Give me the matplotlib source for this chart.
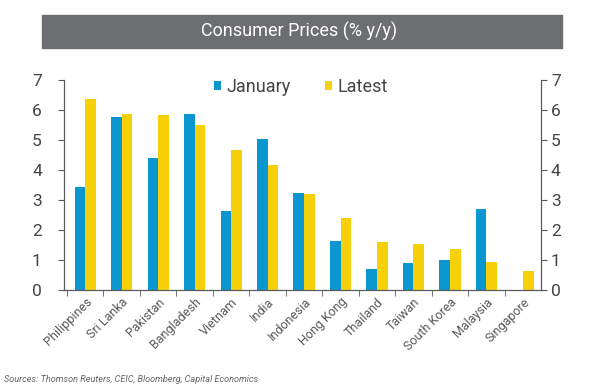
import matplotlib.pyplot as plt
import numpy as np

countries = ['Philippines', 'Sri Lanka', 'Pakistan', 'Bangladesh', 'Vietnam', 'India',
             'Indonesia', 'Hong Kong', 'Thailand', 'Taiwan', 'South Korea', 'Malaysia', 'Singapore']
january = [3.44, 5.76, 4.41, 5.87, 2.64, 5.04, 3.24, 1.63, 0.69, 0.89, 1.0, 2.71, 0.0]
latest = [6.37, 5.87, 5.82, 5.5, 4.66, 4.16, 3.19, 2.39, 1.61, 1.53, 1.37, 0.92, 0.64]

plt.rcParams['font.family'] = ['Roboto', 'DejaVu Sans']

blue = '#0a96cf'
yellow = '#f6d10a'
grey = '#58595b'

fig = plt.figure(figsize=(5.98, 3.89), dpi=100)
ax = fig.add_axes([0.107, 0.2545, 0.798, 0.54])

x = np.arange(len(countries))
w = 0.29
ax.bar(x - w / 2, january, w, color=blue, label='January')
ax.bar(x + w / 2, latest, w, color=yellow, label='Latest')

ax.set_xlim(-0.58, 12.5)
ax.set_ylim(0, 7)
ax.set_yticks(range(8))

# ticks between the categories
ax.set_xticks(np.arange(-0.5, 12.5, 1), minor=True)
ax.set_xticks(x)
ax.set_xticklabels(countries, rotation=45, ha='right', rotation_mode='anchor', fontsize=9, color=grey)
ax.tick_params(axis='x', which='major', length=0, pad=4)
ax.tick_params(axis='x', which='minor', length=4, color=grey, direction='out')
ax.tick_params(axis='y', length=4, color=grey, labelsize=12.5, labelcolor='#444444', pad=12)

ax.spines['top'].set_visible(False)
for s in ['left', 'right', 'bottom']:
    ax.spines[s].set_color(grey)

ax2 = ax.twinx()
ax2.set_ylim(0, 7)
ax2.set_yticks(range(8))
ax2.tick_params(axis='y', length=4, color=grey, labelsize=12.5, labelcolor='#444444', pad=3)
ax2.spines['top'].set_visible(False)
for s in ['left', 'right', 'bottom']:
    ax2.spines[s].set_color(grey)

leg = ax.legend(loc='upper center', bbox_to_anchor=(0.497, 1.085), ncol=2, frameon=False,
                fontsize=13, handlelength=0.4, handleheight=0.4, handletextpad=0.3,
                columnspacing=1.9, labelcolor='#444444')

# title bar
fig.patches.append(plt.Rectangle((42 / 598, 1 - 48 / 389), 520 / 598, 33 / 389,
                                 transform=fig.transFigure, color='#6d6e71', zorder=0))
fig.text(0.5, 1 - 31 / 389, 'Consumer Prices (% y/y)', ha='center', va='center',
         color='white', fontsize=13)

fig.text(4 / 598, 1 - 380 / 389, 'Sources: Thomson Reuters, CEIC, Bloomberg, Capital Economics',
         fontsize=6.6, style='italic', color='#666666', va='center')

fig.savefig('out.png', dpi=100)
